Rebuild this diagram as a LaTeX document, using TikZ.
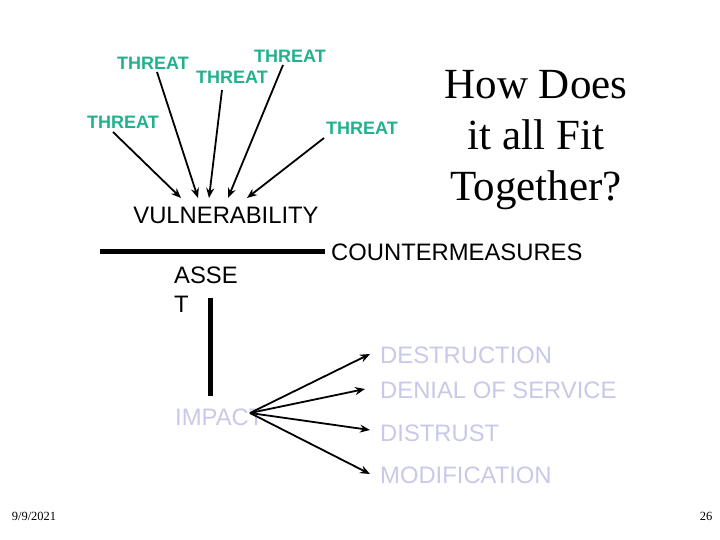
\documentclass[tikz,border=0pt]{standalone}
\usepackage{fontspec}
\setmainfont{Liberation Serif}
\setsansfont{Liberation Sans}
\usetikzlibrary{arrows.meta}
\definecolor{threatc}{RGB}{32,178,142}
\definecolor{lav}{RGB}{200,200,232}
\begin{document}
\begin{tikzpicture}[x=1pt,y=-1pt,
  threat/.style={font=\sffamily\bfseries\fontsize{18}{20}\selectfont, text=threatc, inner sep=0pt},
  big/.style={font=\sffamily\fontsize{23.8}{27}\selectfont, inner sep=0pt},
  lavtxt/.style={big, text=lav, anchor=west},
  arr/.style={line width=1.8pt, -{Stealth[length=10pt,width=8pt]}},
  bar/.style={line width=5pt}]
\useasboundingbox (0,0) rectangle (720,540);
% threats
\node[threat] (t1) at (153,63) {THREAT};
\node[threat] (t2) at (232,77) {THREAT};
\node[threat] (t3) at (290,56) {THREAT};
\node[threat] (t4) at (123,122) {THREAT};
\node[threat] (t5) at (362,128) {THREAT};
\node[big] (vul) at (226,215) {VULNERABILITY};
\coordinate (s1) at (113,132); \coordinate (e1) at (181,198);
\coordinate (s2) at (157,72);  \coordinate (e2) at (198,198);
\coordinate (s3) at (222,90);  \coordinate (e3) at (209,198);
\coordinate (s4) at (283,65);  \coordinate (e4) at (228,198);
\coordinate (s5) at (324,138); \coordinate (e5) at (247,198);
\draw[arr] (s1) -- (e1);
\draw[arr] (s2) -- (e2);
\draw[arr] (s3) -- (e3);
\draw[arr] (s4) -- (e4);
\draw[arr] (s5) -- (e5);
% title
\node[font=\rmfamily\fontsize{43}{51}\selectfont, align=center, inner sep=0pt] (title) at (536,140) {How Does\\it all Fit\\Together?};
% bars
\coordinate (h1) at (100,251); \coordinate (h2) at (325,251);
\draw[bar] (h1) -- (h2);
\node[big, anchor=west] (cm) at (331,252) {COUNTERMEASURES};
\node[big, anchor=north west, align=left, inner sep=0pt] (asset) at (174,267) {ASSE\\[2pt]T};
\coordinate (v1) at (210,298); \coordinate (v2) at (210,396);
\draw[bar] (v1) -- (v2);
\node[big, text=lav, anchor=west] (imp) at (175,417) {IMPACT};
\coordinate (src) at (250,413);
\node[lavtxt] (d1) at (380,355) {DESTRUCTION};
\node[lavtxt] (d2) at (380,390) {DENIAL OF SERVICE};
\node[lavtxt] (d3) at (380,433) {DISTRUST};
\node[lavtxt] (d4) at (380,475) {MODIFICATION};
\coordinate (a1) at (370,354);
\coordinate (a2) at (365,389);
\coordinate (a3) at (370,430);
\coordinate (a4) at (370,474);
\draw[arr] (src) -- (a1);
\draw[arr] (src) -- (a2);
\draw[arr] (src) -- (a3);
\draw[arr] (src) -- (a4);
% footer
\node[font=\rmfamily\fontsize{12.5}{14}\selectfont, inner sep=0pt] (date) at (34,516) {9/9/2021};
\node[font=\rmfamily\fontsize{12.5}{14}\selectfont, inner sep=0pt] (pg) at (706,516) {26};
\end{tikzpicture}
\end{document}
